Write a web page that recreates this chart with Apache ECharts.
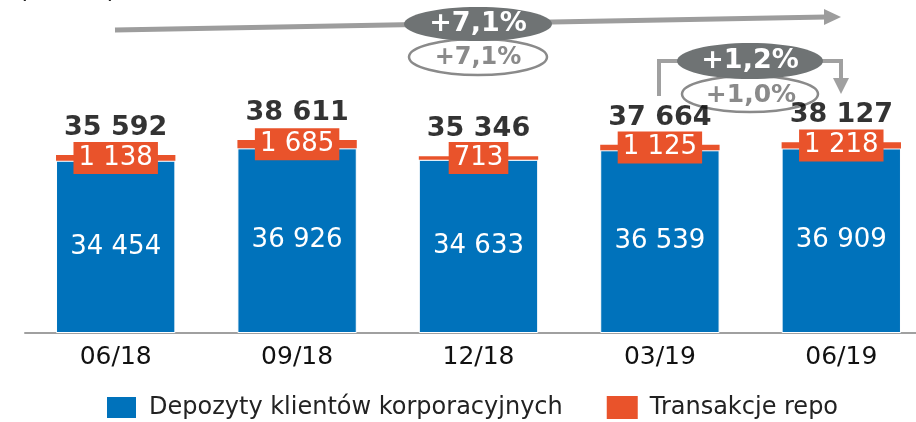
<!DOCTYPE html>
<html>
<head>
<meta charset="utf-8">
<script src="https://cdn.jsdelivr.net/npm/echarts@6/dist/echarts.min.js"></script>
<style>
    html, body { margin: 0; padding: 0; background: #fff; }
    #chart { width: 916px; height: 422px; }
</style>
</head>
<body>
<div id="chart"></div>
<script>
// dane (mln zł)
const categories = ['06/18', '09/18', '12/18', '03/19', '06/19'];
const depozyty = [34454, 36926, 34633, 36539, 36909];
const repo = [1138, 1685, 713, 1125, 1218];
const totals = [35592, 38611, 35346, 37664, 38127];

const BLUE = '#0072bb';
const ORANGE = '#e9532b';
const FONT = 'DejaVu Sans';

const fmt = v => String(v).replace(/\B(?=(\d{3})+(?!\d))/g, ' ');

const chart = echarts.init(document.getElementById('chart'));

chart.setOption({
    animation: false,
    textStyle: { fontFamily: FONT },
    grid: { left: 25, top: 133, width: 907, height: 200, containLabel: false, outerBoundsMode: 'none' },
    legend: {
        data: ['Depozyty klientów korporacyjnych', 'Transakcje repo'],
        left: 105,
        top: 395,
        padding: 0,
        itemWidth: 31,
        itemHeight: 23,
        itemGap: 44,
        icon: 'rect',
        textStyle: { fontSize: 24, color: '#222', padding: [0, 0, 0, 7] }
    },
    xAxis: {
        type: 'category',
        data: categories,
        axisTick: { show: false },
        axisLine: { lineStyle: { color: '#a0a0a0', width: 2 } },
        axisLabel: { fontSize: 25, color: '#111', margin: 12 }
    },
    yAxis: {
        type: 'value',
        min: 0,
        max: 40000,
        show: false
    },
    series: [
        {
            name: 'Depozyty klientów korporacyjnych',
            type: 'bar',
            stack: 'total',
            barWidth: '65.8%',
            data: depozyty,
            itemStyle: { color: BLUE, borderColor: '#fff', borderWidth: 1 },
            label: {
                show: true,
                position: 'inside',
                color: '#fff',
                fontSize: 26,
                formatter: p => fmt(p.value)
            }
        },
        {
            name: 'Transakcje repo',
            type: 'bar',
            stack: 'total',
            data: repo,
            itemStyle: { color: ORANGE },
            label: {
                show: true,
                position: 'inside',
                color: '#fff',
                fontSize: 26,
                lineHeight: 30,
                backgroundColor: ORANGE,
                padding: [1, 5],
                formatter: p => fmt(p.value)
            }
        },
        {
            // sumy nad slupkami
            name: 'suma',
            type: 'scatter',
            symbolSize: 0,
            data: totals,
            z: 5,
            label: {
                show: true,
                position: 'top',
                distance: 13,
                color: '#000',
                fontSize: 27,
                lineHeight: 28,
                fontWeight: 'bold',
                formatter: p => fmt(p.value)
            }
        }
    ],
    graphic: [
        {
            type: 'text', x: 18, y: -23,
            style: { text: '(mln zł)', font: '26px "DejaVu Sans"', fill: '#222' }
        },
        // strzalka r/r
        {
            type: 'polyline',
            shape: { points: [[115, 30], [826, 17]] },
            style: { stroke: '#9d9d9d', lineWidth: 5 }
        },
        {
            type: 'polygon',
            shape: { points: [[824, 9], [841, 17], [824, 25]] },
            style: { fill: '#9d9d9d' }
        },
        {
            type: 'ellipse',
            shape: { cx: 478, cy: 57, rx: 69, ry: 18 },
            style: { fill: '#fff', stroke: '#8a8a8a', lineWidth: 2.5 }
        },
        {
            type: 'text', x: 478, y: 58,
            style: { text: '+7,1%', font: 'bold 24px "DejaVu Sans"', fill: '#8a8a8a', align: 'center', verticalAlign: 'middle' }
        },
        {
            type: 'ellipse',
            shape: { cx: 478, cy: 24, rx: 74, ry: 17 },
            style: { fill: '#6f7374' }
        },
        {
            type: 'text', x: 478, y: 24,
            style: { text: '+7,1%', font: 'bold 27px "DejaVu Sans"', fill: '#fff', align: 'center', verticalAlign: 'middle' }
        },
        // strzalka k/k
        {
            type: 'polyline',
            shape: { points: [[659, 96], [659, 61], [678, 61]] },
            style: { stroke: '#a0a0a0', lineWidth: 4 }
        },
        {
            type: 'polyline',
            shape: { points: [[822, 61], [841, 61], [841, 80]] },
            style: { stroke: '#a0a0a0', lineWidth: 4 }
        },
        {
            type: 'polygon',
            shape: { points: [[833, 78], [849, 78], [841, 94]] },
            style: { fill: '#a0a0a0' }
        },
        {
            type: 'ellipse',
            shape: { cx: 750, cy: 94, rx: 68, ry: 18 },
            style: { fill: '#fff', stroke: '#8a8a8a', lineWidth: 2.5 }
        },
        {
            type: 'text', x: 751, y: 95,
            style: { text: '+1,0%', font: 'bold 25px "DejaVu Sans"', fill: '#8a8a8a', align: 'center', verticalAlign: 'middle' }
        },
        {
            type: 'ellipse',
            shape: { cx: 750, cy: 61, rx: 73, ry: 18 },
            style: { fill: '#6f7374' }
        },
        {
            type: 'text', x: 750, y: 61,
            style: { text: '+1,2%', font: 'bold 27px "DejaVu Sans"', fill: '#fff', align: 'center', verticalAlign: 'middle' }
        }
    ]
});
</script>
</body>
</html>
